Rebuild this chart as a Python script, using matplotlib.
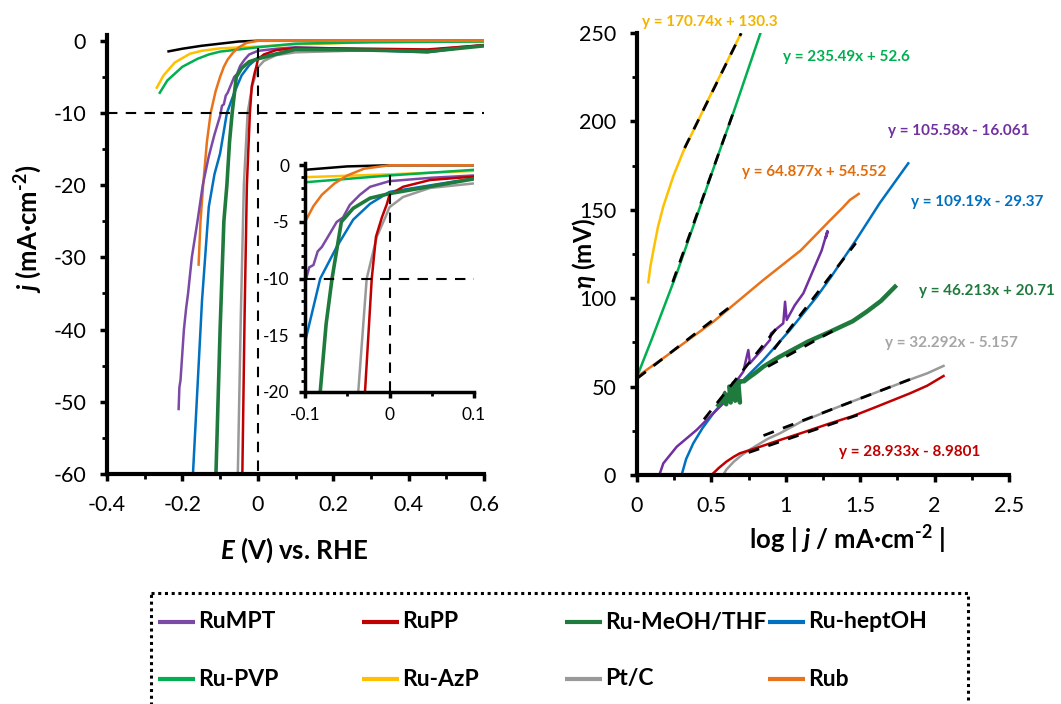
import numpy as np
import matplotlib
matplotlib.use("Agg")
import matplotlib.pyplot as plt
from matplotlib.ticker import MultipleLocator
from matplotlib.patches import Rectangle

plt.rcParams['font.family'] = ['Lato', 'DejaVu Sans']
plt.rcParams['mathtext.fontset'] = 'custom'
plt.rcParams['mathtext.rm'] = 'Lato:bold'
plt.rcParams['mathtext.it'] = 'Lato:italic:bold'
plt.rcParams['mathtext.bf'] = 'Lato:bold'
plt.rcParams['mathtext.fallback'] = 'stixsans'
plt.rcParams['axes.unicode_minus'] = False

# ---- series names / colours (legend order) ----
names = ['RuMPT', 'RuPP', 'Ru-MeOH/THF', 'Ru-heptOH', 'Ru-PVP', 'Ru-AzP', 'Pt/C', 'Rub']
colors = ['#7A4AA6', '#C00000', '#1F7A3D', '#0070C0', '#00B050', '#FFC000', '#999999', '#E8731A']

# ---- LSV curves: E (V vs RHE), j (mA cm-2) ----
E_blank = [-0.24, -0.2, -0.15, -0.1, -0.05, 0.0, 0.6]
j_blank = [-1.5, -1.1, -0.7, -0.4, -0.1, 0.0, 0.0]

E_rumpt = [-0.21, -0.208, -0.205, -0.196, -0.19, -0.185, -0.175, -0.16, -0.146, -0.13, -0.115,
           -0.1, -0.095, -0.09, -0.085, -0.08, -0.072, -0.0625, -0.055, -0.047, -0.035, -0.023,
           0.0, 0.05, 0.1, 0.3, 0.45, 0.6]
j_rumpt = [-51, -48, -47, -40, -37, -35, -30, -25, -20, -16, -13,
           -10.4, -9.0, -8.8, -7.6, -7.2, -6.2, -5.0, -4.6, -3.5, -2.6, -1.9,
           -1.4, -1.1, -0.9, -1.2, -1.3, -0.6]

E_rupp = [-0.041, -0.035, -0.029, -0.021, -0.016, -0.009, -0.003, 0.0, 0.016, 0.048, 0.1, 0.3, 0.45, 0.6]
j_rupp = [-60, -38, -20, -10, -6.3, -4.6, -3.4, -2.6, -1.9, -1.3, -1.0, -1.1, -1.2, -0.6]

E_meoh = [-0.111, -0.1, -0.09, -0.082, -0.075, -0.068, -0.057, -0.043, -0.023, 0.0, 0.1, 0.3, 0.45, 0.6]
j_meoh = [-60, -40, -25, -20, -14, -10, -5, -3.8, -2.9, -2.5, -1.2, -1.3, -1.5, -0.7]

E_hept = [-0.172, -0.16, -0.148, -0.13, -0.115, -0.1, -0.082, -0.0625, -0.043, -0.023, 0.0, 0.1, 0.3, 0.45, 0.6]
j_hept = [-60, -48, -36, -23, -18.5, -15.6, -10, -7.2, -4.8, -3.4, -2.35, -1.15, -1.3, -1.6, -0.6]

E_pvp = [-0.26, -0.24, -0.2, -0.16, -0.13, -0.1, -0.05, 0.0, 0.1, 0.3, 0.6]
j_pvp = [-7.2, -5.5, -3.6, -2.5, -1.9, -1.5, -1.2, -0.9, -0.4, -0.2, -0.1]

E_azp = [-0.268, -0.25, -0.22, -0.18, -0.15, -0.1, 0.0, 0.1, 0.3, 0.6]
j_azp = [-6.5, -4.8, -3.0, -1.8, -1.4, -1.05, -0.8, -0.5, -0.2, -0.1]

E_ptc = [-0.053, -0.045, -0.037, -0.027, -0.015, -0.005, 0.0, 0.016, 0.048, 0.1, 0.3, 0.45, 0.6]
j_ptc = [-60, -38, -20, -10, -6.3, -4.6, -3.7, -2.8, -2.0, -1.6, -1.3, -1.4, -0.7]

E_rub = [-0.157, -0.152, -0.145, -0.135, -0.125, -0.112, -0.1, -0.09, -0.08, -0.065, -0.05, -0.03, 0.0, 0.6]
j_rub = [-31, -25, -20, -14, -10, -7, -5, -3.6, -2.6, -1.6, -0.9, -0.3, 0.0, 0.0]

# ---- Tafel curves: log|j|, overpotential (mV) ----
x_rumpt = [0.15, 0.177, 0.267, 0.401, 0.49, 0.58, 0.59, 0.6, 0.65, 0.714, 0.748, 0.759, 0.83,
           0.894, 0.9, 0.983, 0.995, 1.006, 1.06, 1.118, 1.185, 1.241, 1.275, 1.28, 1.268, 1.28]
eta_rumpt = [0, 6.6, 16, 25.5, 33, 40.5, 47, 44, 51, 58.4, 70.7, 63.2, 70,
             76.4, 80, 85.8, 98, 87.7, 96, 102.8, 116, 127, 136.7, 138, 134, 137]
x_rupp = [0.513, 0.55, 0.6, 0.65, 0.692, 0.8, 0.961, 1.1, 1.297, 1.45, 1.61, 1.835, 1.95, 2.06]
eta_rupp = [1, 4, 7.5, 10.3, 12.3, 15.2, 19.8, 23.6, 29.2, 33.3, 38.6, 46.2, 50.5, 56]
x_meoh = [0.547, 0.57, 0.6, 0.59, 0.63, 0.62, 0.66, 0.65, 0.692, 0.68, 0.72, 0.75, 0.8, 0.849,
          0.95, 1.05, 1.15, 1.297, 1.45, 1.544, 1.64, 1.734]
eta_meoh = [39.6, 43, 40, 46, 41, 50, 42, 52, 41, 53, 53, 55, 58, 61.3,
            66.5, 71, 75.5, 81, 87, 92.4, 98.5, 106.5]
x_hept = [0.3, 0.33, 0.378, 0.44, 0.513, 0.59, 0.67, 0.76, 0.849, 1.028, 1.208, 1.297, 1.465, 1.633, 1.823]
eta_hept = [0, 9, 17.9, 26.5, 34.9, 42.5, 49.9, 57.5, 65, 82, 100.8, 111.2, 132, 154, 176.3]
x_pvp = [0.0, 0.1, 0.267, 0.45, 0.558, 0.648, 0.83]
eta_pvp = [55.6, 77, 114, 158, 184, 205, 250]
x_azp = [0.076, 0.09, 0.11, 0.14, 0.177, 0.244, 0.311, 0.5, 0.70]
eta_azp = [109, 118, 127, 140, 152, 169, 183, 216, 250]
x_ptc = [0.58, 0.6, 0.65, 0.7, 0.737, 0.8, 0.88, 0.961, 1.1, 1.297, 1.45, 1.61, 1.835, 1.95, 2.06]
eta_ptc = [0, 3, 7.5, 11, 13.2, 16.5, 20.5, 23.6, 30, 36.7, 41.7, 46.8, 54, 57.5, 61.7]
x_rub = [0.0, 0.2, 0.513, 0.849, 1.1, 1.297, 1.38, 1.43, 1.49]
eta_rub = [55.6, 67.5, 86.7, 110.3, 127, 144, 151, 155.5, 159]

# linear fits shown on the chart (slope, intercept) and the fitted log|j| window
fit_slope = [105.58, 28.933, 46.213, 109.19, 235.49, 170.74, 32.292, 64.877]
fit_icpt = [-16.061, -8.9801, 20.71, -29.37, 52.6, 130.3, -5.157, 54.552]
fit_from = [0.45, 0.75, 0.88, 0.92, 0.24, 0.32, 0.85, 0.0]
fit_to = [0.95, 1.5, 1.35, 1.47, 0.65, 0.70, 1.85, 0.62]
fit_text = ['y = 105.58x - 16.061', 'y = 28.933x - 8.9801', 'y = 46.213x + 20.71',
            'y = 109.19x - 29.37', 'y = 235.49x + 52.6', 'y = 170.74x + 130.3',
            'y = 32.292x - 5.157', 'y = 64.877x + 54.552']
fit_text_pos = [(1.687, 194.6), (1.358, 13.0), (1.895, 104.1), (1.841, 154.4),
                (0.981, 236.4), (0.034, 256.2), (1.667, 74.7), (0.706, 171.4)]
fit_text_col = ['#7030A0', '#C00000', '#1F7A3D', '#0070C0', '#00B050', '#F2B400', '#A6A6A6', '#E36C0A']

lsv = [(E_rumpt, j_rumpt), (E_rupp, j_rupp), (E_meoh, j_meoh), (E_hept, j_hept),
       (E_pvp, j_pvp), (E_azp, j_azp), (E_ptc, j_ptc), (E_rub, j_rub)]
tafel = [(x_rumpt, eta_rumpt), (x_rupp, eta_rupp), (x_meoh, eta_meoh), (x_hept, eta_hept),
         (x_pvp, eta_pvp), (x_azp, eta_azp), (x_ptc, eta_ptc), (x_rub, eta_rub)]
# drawing order (bottom -> top)
z_order = [5, 4, 7, 3, 0, 6, 1, 2]

W, H = 1061, 704
fig = plt.figure(figsize=(W / 100, H / 100), dpi=100)


def px_axes(x0, y0, x1, y1):
    return fig.add_axes([x0 / W, 1 - y1 / H, (x1 - x0) / W, (y1 - y0) / H])


def style_axes(ax, size, pad, major_len=5, minor_len=3.5):
    for s in ['top', 'right']:
        ax.spines[s].set_visible(False)
    for s in ['left', 'bottom']:
        ax.spines[s].set_linewidth(3)
    ax.tick_params(which='major', direction='out', length=major_len, width=2.5,
                   labelsize=size, pad=pad)
    ax.tick_params(which='minor', direction='out', length=minor_len, width=2)


# ---------------- left: LSV ----------------
ax1 = px_axes(107, 35, 484, 474)
ax1.set_xlim(-0.4, 0.6)
ax1.set_ylim(-60, 0.8)
ax1.set_yticks(np.arange(-60, 1, 10))
ax1.xaxis.set_major_locator(MultipleLocator(0.2))
ax1.xaxis.set_minor_locator(MultipleLocator(0.1))
ax1.yaxis.set_minor_locator(MultipleLocator(5))
ax1.xaxis.set_major_formatter(lambda v, p: '0' if abs(v) < 1e-9 else f'{v:.1f}')
style_axes(ax1, 15.5, 10)

ax1.plot(E_blank, j_blank, color='black', lw=1.8, solid_capstyle='butt')
for i in z_order:
    lw = 2.6 if i == 2 else 1.8
    ax1.plot(lsv[i][0], lsv[i][1], color=colors[i], lw=lw)
ax1.axhline(-10, color='black', lw=1.5, dashes=(5, 4))
ax1.plot([0, 0], [-1, -60], color='black', lw=1.5, dashes=(5, 4))

ax1.set_xlabel(r'$E$ (V) vs. RHE', fontsize=18.5, fontweight='bold')
ax1.set_ylabel(r'$j$ (mA·cm$^{\text{-2}}$)', fontsize=18.5, fontweight='bold')
ax1.xaxis.label.set_va('center')
ax1.yaxis.label.set_va('center')
ax1.xaxis.set_label_coords(0.496, -0.173)
ax1.yaxis.set_label_coords(-0.21, 0.56)

# ---------------- inset ----------------
ax2 = px_axes(305, 163, 474, 392)
ax2.patch.set_alpha(0)
ax2.set_xlim(-0.1, 0.1)
ax2.set_ylim(-20, 0.2)
ax2.set_xticks([-0.1, 0, 0.1])
ax2.set_yticks(np.arange(-20, 1, 5))
ax2.xaxis.set_minor_locator(MultipleLocator(0.05))
ax2.yaxis.set_minor_locator(MultipleLocator(1))
ax2.xaxis.set_major_formatter(lambda v, p: '0' if abs(v) < 1e-9 else f'{v:.1f}')
style_axes(ax2, 12.5, 6.5, major_len=4.5, minor_len=3)
ax2.spines['left'].set_linewidth(2.5)
ax2.spines['bottom'].set_linewidth(2.5)

ax2.plot(E_blank, j_blank, color='black', lw=1.8)
for i in z_order:
    lw = 2.6 if i == 2 else 1.8
    ax2.plot(lsv[i][0], lsv[i][1], color=colors[i], lw=lw)
ax2.axhline(-10, color='black', lw=1.5, dashes=(5, 4))
ax2.plot([0, 0], [-0.9, -20], color='black', lw=1.5, dashes=(5, 4))

# ---------------- right: Tafel ----------------
ax3 = px_axes(637, 33, 1009, 475)
ax3.set_xlim(0, 2.5)
ax3.set_ylim(0, 250)
ax3.xaxis.set_major_locator(MultipleLocator(0.5))
ax3.xaxis.set_minor_locator(MultipleLocator(0.25))
ax3.yaxis.set_major_locator(MultipleLocator(50))
ax3.yaxis.set_minor_locator(MultipleLocator(25))
ax3.xaxis.set_major_formatter(lambda v, p: f'{v:g}')
style_axes(ax3, 15.5, 10)

for i in z_order:
    lw = 3.2 if i == 2 else 1.8
    ax3.plot(tafel[i][0], tafel[i][1], color=colors[i] if i != 0 else '#7030A0', lw=lw)
for i in range(len(names)):
    xs = np.array([fit_from[i], fit_to[i]])
    ax3.plot(xs, fit_slope[i] * xs + fit_icpt[i], color='black', lw=2, dashes=(4, 3.5))
    ax3.text(fit_text_pos[i][0], fit_text_pos[i][1], fit_text[i], color=fit_text_col[i],
             fontsize=11, fontweight='bold', ha='left', va='center', clip_on=False)

ax3.set_xlabel(r'log | $j$ / mA·cm$^{\text{-2}}$ |', fontsize=18.5, fontweight='bold')
ax3.set_ylabel(r'$\eta$ (mV)', fontsize=17.5, fontweight='bold')
ax3.xaxis.label.set_va('center')
ax3.yaxis.label.set_va('center')
ax3.xaxis.set_label_coords(0.5645, -0.147)
ax3.yaxis.set_label_coords(-0.142, 0.5)

# ---------------- legend (dotted box below the plots) ----------------
lg = fig.add_axes([0, 0, 1, 1])
lg.set_xlim(0, W)
lg.set_ylim(H, 0)
lg.axis('off')
lg.add_patch(Rectangle((151, 593), 968 - 151, 140, fill=False, edgecolor='black',
                       lw=2.2, linestyle=(0, (1, 1.2)), clip_on=True))
col_x = [158, 362, 565, 768]
row_y = [622, 679]
for k, name in enumerate(names):
    x0 = col_x[k % 4]
    y0 = row_y[k // 4]
    lg.plot([x0, x0 + 37], [y0, y0], color=colors[k], lw=3, solid_capstyle='butt')
    lg.text(x0 + 40, y0, name, fontsize=16.5, fontweight='bold', ha='left', va='center')

fig.savefig('out.png', dpi=100)
